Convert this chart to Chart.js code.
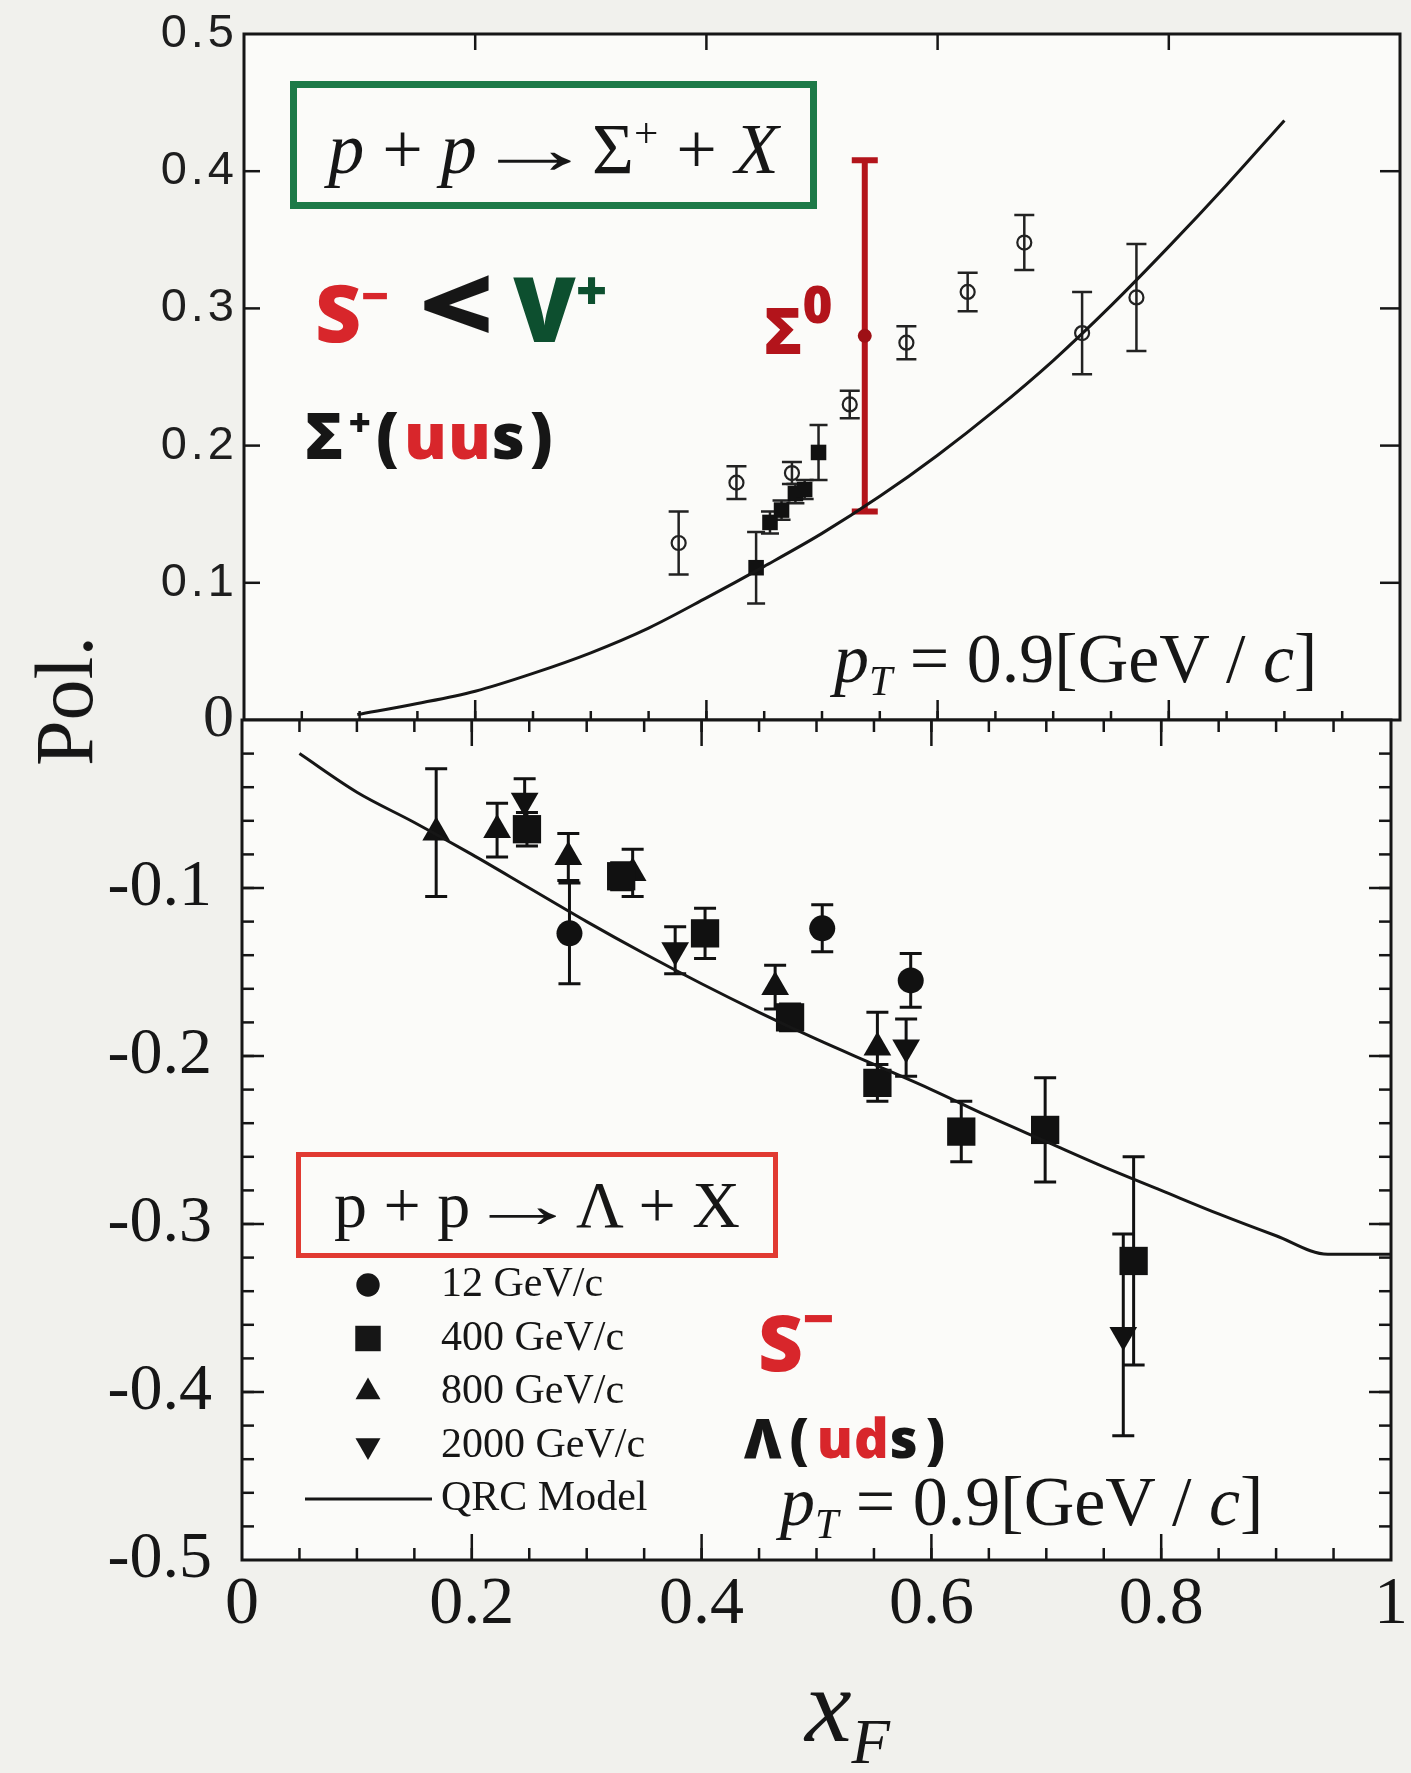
<!DOCTYPE html>
<html>
<head>
<meta charset="utf-8">
<script src="https://cdn.jsdelivr.net/npm/chart.js@4.4.0/dist/chart.umd.min.js"></script>
<style>
  html, body { margin: 0; padding: 0; background: #f1f1ed; }
  #page { position: relative; width: 1411px; height: 1773px; overflow: hidden; color: #161616; font-family: 'Liberation Serif', serif; }
  canvas { position: absolute; left: 0; }
  #upper { top: 0; }
  #lower { top: 700px; }
  .txt { position: absolute; white-space: nowrap; line-height: 1; }
  .serif { font-family: 'Liberation Serif', serif; }
  .hand { font-family: 'Open Sans', 'DejaVu Sans', sans-serif; font-weight: 800; }
  .box { position: absolute; box-sizing: border-box; display: flex; align-items: center; justify-content: center; }
  .arrow { display: inline-block; transform: scaleX(1.7); margin: 0 0.3em; }
  sup { font-size: 0.6em; vertical-align: 0.6em; line-height: 0; }
  sub { font-size: 0.6em; vertical-align: -0.3em; line-height: 0; }
  .red { color: #d8262b; }
  .dred { color: #b3141b; }
  .dgreen { color: #0d4f2f; }
</style>
</head>
<body>
<div id="page">
  <canvas id="upper" width="1411" height="740"></canvas>
  <canvas id="lower" width="1411" height="1073"></canvas>

  <!-- upper panel notes -->
  <div class="box serif" style="left:290px;top:81px;width:527px;height:128px;border:7px solid #1d7a48;font-size:72px;padding-top:8px;">
    <span><i>p</i> + <i>p</i><span class="arrow">→</span>Σ<sup>+</sup> + <i>X</i></span>
  </div>
  <div class="txt hand" style="left:315px;top:250px;font-size:80px;">
    <span class="red">S</span><sup class="red">−</sup><span style="display:inline-block;font-size:104px;margin:0 26px 0 38px;transform:scaleX(1.25);">&lt;</span><span class="dgreen" style="font-size:90px;">V</span><sup class="dgreen" style="font-size:54px;">+</sup>
  </div>
  <div class="txt hand" style="left:305px;top:403px;font-size:64px;letter-spacing:5px;">Σ<sup>+</sup>(<span class="red" style="letter-spacing:1px;">uu</span>s)</div>
  <div class="txt hand dred" style="left:764px;top:298px;font-size:64px;">Σ<sup style="font-size:0.8em;">0</sup></div>
  <div class="txt serif" style="left:834px;top:624px;font-size:70px;"><i>p</i><sub><i>T</i></sub> = 0.9[GeV / <i>c</i>]</div>

  <!-- lower panel notes -->
  <div class="box serif" style="left:296px;top:1152px;width:482px;height:106px;border:5px solid #e13a32;font-size:66px;">
    <span>p + p<span class="arrow">→</span>Λ + X</span>
  </div>
  <div class="txt hand red" style="left:758px;top:1302px;font-size:78px;">S<sup style="font-size:0.7em;">−</sup></div>
  <div class="txt hand" style="left:744px;top:1410px;font-size:54px;letter-spacing:8px;">Λ(<span class="red" style="letter-spacing:1px;">ud</span>s)</div>
  <div class="txt serif" style="left:780px;top:1467px;font-size:70px;"><i>p</i><sub><i>T</i></sub> = 0.9[GeV / <i>c</i>]</div>

  <!-- axis titles -->
  <div class="txt serif" style="left:65px;top:701px;font-size:82px;transform:translate(-50%,-50%) rotate(-90deg);">Pol.</div>
  <div class="txt serif" style="left:805px;top:1653px;font-size:105px;"><i>x</i><sub style="font-size:0.6em;vertical-align:-0.35em;"><i>F</i></sub></div>
</div>

<script>
// ---- Sigma+ panel (p + p -> Sigma+ + X) ----
const sigXF = [0.376, 0.426, 0.474, 0.524, 0.573, 0.626, 0.675, 0.725, 0.772];
const sigPol = [0.129, 0.173, 0.180, 0.230, 0.275, 0.312, 0.348, 0.282, 0.308];
const sigErr = [0.023, 0.012, 0.008, 0.010, 0.012, 0.014, 0.020, 0.030, 0.039];

const sigSqXF = [0.443, 0.455, 0.465, 0.477, 0.485, 0.497];
const sigSqPol = [0.111, 0.144, 0.153, 0.165, 0.168, 0.195];
const sigSqErr = [0.026, 0.008, 0.007, 0.007, 0.007, 0.020];

const sig0XF = [0.537];
const sig0Pol = [0.280];
const sig0Err = [0.128];

const upCurveX = [0.098, 0.15, 0.2, 0.25, 0.3, 0.35, 0.4, 0.45, 0.5, 0.55, 0.6, 0.65, 0.7, 0.75, 0.8, 0.85, 0.9];
const upCurveY = [0.004, 0.012, 0.021, 0.034, 0.049, 0.067, 0.089, 0.112, 0.136, 0.163, 0.193, 0.226, 0.262, 0.302, 0.345, 0.390, 0.437];

// ---- Lambda panel (p + p -> Lambda + X) ----
const l12XF = [0.285, 0.505, 0.582];
const l12Pol = [-0.127, -0.124, -0.155];
const l12Err = [0.030, 0.014, 0.016];

const l400XF = [0.248, 0.330, 0.403, 0.477, 0.553, 0.626, 0.699, 0.776];
const l400Pol = [-0.065, -0.093, -0.127, -0.177, -0.216, -0.245, -0.244, -0.322];
const l400Err = [0.010, 0.008, 0.015, 0.008, 0.011, 0.018, 0.031, 0.062];

const l800XF = [0.169, 0.222, 0.284, 0.340, 0.464, 0.553];
const l800Pol = [-0.067, -0.0655, -0.0815, -0.091, -0.159, -0.195];
const l800Err = [0.038, 0.016, 0.014, 0.014, 0.013, 0.021];

const l2000XF = [0.246, 0.377, 0.578, 0.767];
const l2000Pol = [-0.048, -0.137, -0.195, -0.366];
const l2000Err = [0.013, 0.014, 0.017, 0.060];

const lowCurveX = [0.05, 0.1, 0.15, 0.2, 0.25, 0.3, 0.35, 0.4, 0.45, 0.5, 0.55, 0.6, 0.65, 0.7, 0.75, 0.8, 0.85, 0.9, 0.945, 1.0];
const lowCurveY = [-0.020, -0.043, -0.061, -0.080, -0.100, -0.120, -0.139, -0.157, -0.174, -0.190, -0.205, -0.220, -0.236, -0.251, -0.266, -0.280, -0.294, -0.307, -0.318, -0.318];

const legendLabels = ['12 GeV/c', '400 GeV/c', '800 GeV/c', '2000 GeV/c', 'QRC Model'];

const INK = '#161616';

function pts(xs, ys) {
  return xs.map((x, i) => ({ x: x, y: ys[i] }));
}

// frame around the plot area plus inward tick marks on every side
const frameTicks = {
  id: 'frameTicks',
  beforeDraw(chart, args, opts) {
    const { ctx, chartArea: a } = chart;
    ctx.save();
    ctx.fillStyle = opts.plotFill;
    ctx.fillRect(a.left, a.top, a.right - a.left, a.bottom - a.top);
    ctx.restore();
    if (opts.letterSpacing) ctx.letterSpacing = opts.letterSpacing;
  },
  beforeDatasetsDraw(chart) {
    chart.ctx.letterSpacing = '0px';
  },
  afterDatasetsDraw(chart, args, opts) {
    const { ctx, chartArea: a, scales } = chart;
    ctx.save();
    ctx.strokeStyle = opts.color;
    ctx.lineWidth = opts.tickWidth;
    const sides = opts.sides;
    Object.keys(sides).forEach(side => {
      const scale = (side === 'left' || side === 'right') ? scales.y : scales.x;
      sides[side].forEach(m => {
        const n = Math.round((scale.max - scale.min) / m.step);
        for (let i = 1; i < n; i++) {
          const p = scale.getPixelForValue(scale.min + i * m.step);
          ctx.beginPath();
          if (side === 'left') { ctx.moveTo(a.left, p); ctx.lineTo(a.left + m.len, p); }
          if (side === 'right') { ctx.moveTo(a.right, p); ctx.lineTo(a.right - m.len, p); }
          if (side === 'top') { ctx.moveTo(p, a.top); ctx.lineTo(p, a.top + m.len); }
          if (side === 'bottom') { ctx.moveTo(p, a.bottom); ctx.lineTo(p, a.bottom - m.len); }
          ctx.stroke();
        }
      });
    });
    ctx.lineWidth = opts.frameWidth;
    ctx.strokeRect(a.left, a.top, a.right - a.left, a.bottom - a.top);
    ctx.restore();
  }
};

// vertical error bars with caps, read from dataset.errors
const errorBars = {
  id: 'errorBars',
  beforeDatasetsDraw(chart) {
    const ctx = chart.ctx;
    chart.data.datasets.forEach((ds, i) => {
      if (!ds.errors) return;
      const meta = chart.getDatasetMeta(i);
      const ys = chart.scales[meta.yAxisID];
      ctx.save();
      ctx.strokeStyle = ds.errorColor;
      ctx.lineWidth = ds.errorWidth;
      meta.data.forEach((el, j) => {
        const v = ds.data[j].y, e = ds.errors[j];
        const top = ys.getPixelForValue(v + e);
        const bot = ys.getPixelForValue(v - e);
        const c = ds.capHalf;
        ctx.beginPath();
        ctx.moveTo(el.x, top); ctx.lineTo(el.x, bot);
        ctx.moveTo(el.x - c, top); ctx.lineTo(el.x + c, top);
        ctx.moveTo(el.x - c, bot); ctx.lineTo(el.x + c, bot);
        ctx.stroke();
      });
      ctx.restore();
    });
  }
};

// key drawn inside the lower panel
const keyBox = {
  id: 'keyBox',
  afterDatasetsDraw(chart, args, opts) {
    const ctx = chart.ctx;
    const items = chart.data.datasets.filter(d => d.keyRow !== undefined).sort((a, b) => a.keyRow - b.keyRow);
    ctx.save();
    ctx.font = opts.font;
    ctx.textBaseline = 'middle';
    ctx.textAlign = 'left';
    items.forEach(ds => {
      const y = opts.y + ds.keyRow * opts.gap;
      ctx.fillStyle = INK;
      ctx.strokeStyle = INK;
      if (ds.showLine) {
        ctx.lineWidth = ds.borderWidth;
        ctx.beginPath();
        ctx.moveTo(opts.lineX0, y); ctx.lineTo(opts.lineX1, y);
        ctx.stroke();
      } else {
        Chart.helpers.drawPoint(ctx, {
          pointStyle: ds.pointStyle,
          rotation: ds.pointRotation || 0,
          radius: ds.pointRadius * opts.markScale,
          borderWidth: 0
        }, opts.markX, y);
      }
      ctx.fillStyle = INK;
      ctx.fillText(ds.label, opts.textX, y);
    });
    ctx.restore();
  }
};

const upperChart = new Chart(document.getElementById('upper'), {
  type: 'scatter',
  data: {
    datasets: [
      { label: 'QRC Model', data: pts(upCurveX, upCurveY), showLine: true, borderColor: INK, borderWidth: 3,
        pointRadius: 0, cubicInterpolationMode: 'monotone' },
      { label: 'Sigma+ open', data: pts(sigXF, sigPol), pointStyle: 'circle', pointRadius: 7, borderWidth: 2.2,
        borderColor: '#222', backgroundColor: 'rgba(0,0,0,0)',
        errors: sigErr, errorColor: '#222', errorWidth: 2.5, capHalf: 10 },
      { label: 'Sigma+ filled', data: pts(sigSqXF, sigSqPol), pointStyle: 'rect', pointRadius: 11, borderWidth: 0,
        backgroundColor: '#111',
        errors: sigSqErr, errorColor: '#222', errorWidth: 2.5, capHalf: 9 },
      { label: 'Sigma0', data: pts(sig0XF, sig0Pol), pointStyle: 'circle', pointRadius: 7, borderWidth: 0,
        backgroundColor: '#9e1016',
        errors: sig0Err, errorColor: '#b3141b', errorWidth: 6, capHalf: 13 }
    ]
  },
  options: {
    responsive: false,
    animation: false,
    events: [],
    devicePixelRatio: 1,
    layout: { padding: { top: 34, right: 9, left: 0, bottom: 0 } },
    scales: {
      x: {
        type: 'linear', min: 0, max: 1,
        grid: { display: false, drawTicks: false }, border: { display: false },
        ticks: { display: false },
        afterFit(s) { s.height = 20; s.paddingLeft = 0; s.paddingRight = 0; }
      },
      y: {
        type: 'linear', min: 0, max: 0.5,
        grid: { display: false, drawTicks: false }, border: { display: false },
        ticks: {
          stepSize: 0.1, padding: 6, color: '#1e1e1e', autoSkip: false,
          callback: v => Math.abs(v) < 1e-9 ? '0' : v.toFixed(1),
          font: c => (c.tick && Math.abs(c.tick.value) < 1e-9)
            ? { family: 'Liberation Serif', size: 62 }
            : { family: 'Liberation Sans', size: 47 }
        },
        afterFit(s) { s.width = 244; s.paddingTop = 0; s.paddingBottom = 0; }
      }
    },
    plugins: {
      legend: { display: false },
      tooltip: { enabled: false },
      frameTicks: {
        color: INK, frameWidth: 3, tickWidth: 2.5, plotFill: '#fbfbf9', letterSpacing: '4px',
        sides: {
          left: [{ step: 0.1, len: 16 }],
          right: [{ step: 0.1, len: 20 }],
          top: [{ step: 0.2, len: 16 }],
          bottom: [{ step: 0.05, len: 9 }, { step: 0.2, len: 20 }]
        }
      }
    }
  },
  plugins: [frameTicks, errorBars]
});

const lowerChart = new Chart(document.getElementById('lower'), {
  type: 'scatter',
  data: {
    datasets: [
      { label: legendLabels[4], keyRow: 4, data: pts(lowCurveX, lowCurveY), showLine: true, borderColor: INK,
        borderWidth: 3, pointRadius: 0, cubicInterpolationMode: 'monotone' },
      { label: legendLabels[0], keyRow: 0, data: pts(l12XF, l12Pol), pointStyle: 'circle', pointRadius: 13,
        borderWidth: 0, backgroundColor: '#111',
        errors: l12Err, errorColor: '#111', errorWidth: 3, capHalf: 11 },
      { label: legendLabels[1], keyRow: 1, data: pts(l400XF, l400Pol), pointStyle: 'rect', pointRadius: 20,
        borderWidth: 0, backgroundColor: '#111',
        errors: l400Err, errorColor: '#111', errorWidth: 3, capHalf: 11 },
      { label: legendLabels[2], keyRow: 2, data: pts(l800XF, l800Pol), pointStyle: 'triangle', pointRadius: 16,
        borderWidth: 0, backgroundColor: '#111',
        errors: l800Err, errorColor: '#111', errorWidth: 3, capHalf: 11 },
      { label: legendLabels[3], keyRow: 3, data: pts(l2000XF, l2000Pol), pointStyle: 'triangle', pointRotation: 180,
        pointRadius: 16, borderWidth: 0, backgroundColor: '#111',
        errors: l2000Err, errorColor: '#111', errorWidth: 3, capHalf: 11 }
    ]
  },
  options: {
    responsive: false,
    animation: false,
    events: [],
    devicePixelRatio: 1,
    layout: { padding: { top: 20, right: 9, left: 0, bottom: 0 } },
    scales: {
      x: {
        type: 'linear', min: 0, max: 1,
        grid: { display: false, drawTicks: false }, border: { display: false },
        ticks: {
          stepSize: 0.2, padding: 4, color: '#161616', autoSkip: false, maxRotation: 0,
          font: { family: 'Liberation Serif', size: 68 },
          callback: v => Math.abs(v) < 1e-9 ? '0' : (Math.abs(v - 1) < 1e-9 ? '1' : v.toFixed(1))
        },
        afterFit(s) { s.height = 213; s.paddingLeft = 0; s.paddingRight = 0; }
      },
      y: {
        type: 'linear', min: -0.5, max: 0,
        grid: { display: false, drawTicks: false }, border: { display: false },
        ticks: {
          stepSize: 0.1, padding: 30, color: '#161616', autoSkip: false,
          font: { family: 'Liberation Serif', size: 66 },
          callback: v => Math.abs(v) < 1e-9 ? '' : v.toFixed(1)
        },
        afterFit(s) { s.width = 242; s.paddingTop = 0; s.paddingBottom = 0; }
      }
    },
    plugins: {
      legend: { display: false },
      tooltip: { enabled: false },
      frameTicks: {
        color: INK, frameWidth: 3, tickWidth: 2.5, plotFill: '#fbfbf9',
        sides: {
          left: [{ step: 0.02, len: 12 }, { step: 0.1, len: 22 }],
          right: [{ step: 0.02, len: 12 }, { step: 0.1, len: 22 }],
          top: [{ step: 0.05, len: 12 }, { step: 0.2, len: 26 }],
          bottom: [{ step: 0.05, len: 12 }, { step: 0.2, len: 26 }]
        }
      },
      keyBox: {
        font: '42px "Liberation Serif"', y: 585, gap: 53.5,
        markX: 368, textX: 441, lineX0: 305, lineX1: 432, markScale: 0.9
      }
    }
  },
  plugins: [frameTicks, errorBars, keyBox]
});
</script>
</body>
</html>
